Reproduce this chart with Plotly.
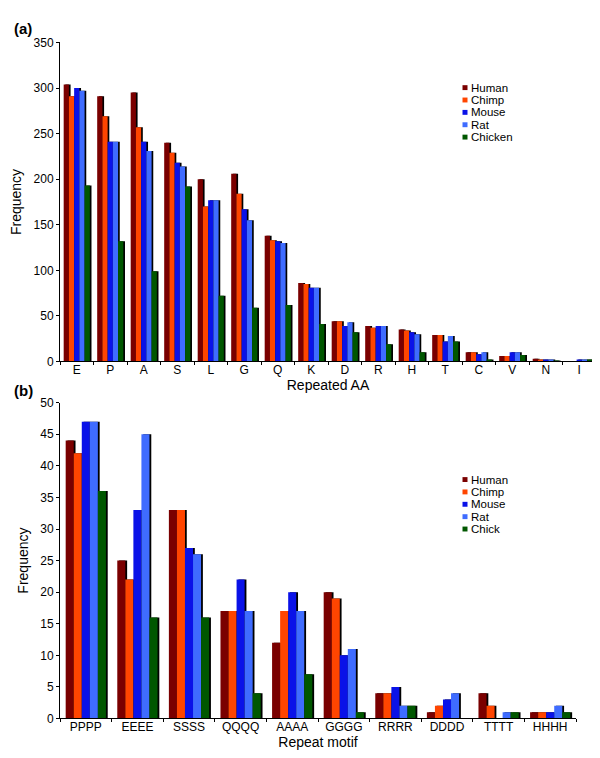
import plotly.graph_objects as go

# ---------- data (a) ----------
aa_cats = ["E", "P", "A", "S", "L", "G", "Q", "K", "D", "R", "H", "T", "C", "V", "N", "I"]
a_human = [304, 291, 295, 240, 200, 206, 138, 86, 44, 39, 35, 29, 10, 6, 3, 0]
a_chimp = [291, 269, 257, 229, 170, 184, 133, 85, 44, 37, 34, 29, 10, 6, 2, 0]
a_mouse = [300, 241, 241, 218, 177, 167, 132, 81, 39, 39, 32, 22, 8, 10, 2, 2]
a_rat = [297, 241, 231, 214, 177, 155, 130, 81, 43, 39, 30, 28, 10, 10, 2, 2]
a_chicken = [193, 132, 99, 192, 72, 59, 62, 41, 32, 19, 10, 22, 2, 7, 1, 2]
a_names = ["Human", "Chimp", "Mouse", "Rat", "Chicken"]

# ---------- data (b) ----------
motif_cats = ["PPPP", "EEEE", "SSSS", "QQQQ", "AAAA", "GGGG", "RRRR", "DDDD", "TTTT", "HHHH"]
b_human = [44, 25, 33, 17, 12, 20, 4, 1, 4, 1]
b_chimp = [42, 22, 33, 17, 17, 19, 4, 2, 2, 1]
b_mouse = [47, 33, 27, 22, 20, 10, 5, 3, 0, 1]
b_rat = [47, 45, 26, 17, 17, 11, 2, 4, 1, 2]
b_chick = [36, 16, 16, 4, 7, 1, 2, 0, 1, 1]
b_names = ["Human", "Chimp", "Mouse", "Rat", "Chick"]

colors = ["#7a0000", "#ff4500", "#0a12e8", "#3f6cff", "#005700"]

FONT = "Liberation Sans, Arial, sans-serif"
W, H = 600, 758

fig = go.Figure()


def add_group(cats, series, names, xa, ya, shadow_dx):
    w = 0.156
    start = -0.39
    for i, (vals, name, col) in enumerate(zip(series, names, colors)):
        off = start + i * w
        fig.add_trace(go.Bar(x=cats, y=vals, offset=off + shadow_dx, width=w,
                             marker=dict(color="black", line=dict(width=0)),
                             showlegend=False, hoverinfo="skip",
                             xaxis=xa, yaxis=ya))
        fig.add_trace(go.Bar(x=cats, y=vals, offset=off, width=w, name=name,
                             marker=dict(color=col, line=dict(width=0)),
                             showlegend=False, xaxis=xa, yaxis=ya))


add_group(aa_cats, [a_human, a_chimp, a_mouse, a_rat, a_chicken], a_names,
          "x", "y", 0.05)
add_group(motif_cats, [b_human, b_chimp, b_mouse, b_rat, b_chick], b_names,
          "x2", "y2", 0.035)

annotations = [
    dict(text="<b>(a)</b>", x=4 / W, y=1 - 14 / H, xref="paper", yref="paper",
         xanchor="left", yanchor="middle", showarrow=False, font=dict(size=15)),
    dict(text="<b>(b)</b>", x=4 / W, y=1 - 383 / H, xref="paper", yref="paper",
         xanchor="left", yanchor="middle", showarrow=False, font=dict(size=15)),
]
shapes = []


def add_legend(names, top_px, sq_x=457, text_x=462, step=12.6):
    for i, (name, col) in enumerate(zip(names, colors)):
        yc = top_px + i * step
        shapes.append(dict(type="rect", xref="paper", yref="paper",
                           x0=(sq_x - 2.5) / W, x1=(sq_x + 2.5) / W,
                           y0=1 - (yc + 2.5) / H, y1=1 - (yc - 2.5) / H,
                           fillcolor=col, line=dict(width=0)))
        annotations.append(dict(text=name, x=text_x / W, y=1 - yc / H,
                                xref="paper", yref="paper", xanchor="left",
                                yanchor="middle", showarrow=False, borderpad=0,
                                font=dict(size=11.5, color="black")))


add_legend(a_names, 74)
add_legend(b_names, 473.3)

axis_common = dict(showline=True, linecolor="black", linewidth=1, ticks="outside",
                   ticklen=3, tickcolor="black", showgrid=False, zeroline=False,
                   tickfont=dict(size=12, color="black", family=FONT))

fig.update_layout(
    width=W, height=H, barmode="overlay",
    margin=dict(l=0, r=0, t=0, b=0),
    paper_bgcolor="white", plot_bgcolor="white",
    font=dict(family=FONT, color="black"),
    showlegend=False,
    xaxis=dict(domain=[52 / W, 588 / W], anchor="y", type="category",
               tickson="boundaries", range=[-0.5, len(aa_cats) - 0.5],
               ticklabelstandoff=-3,
               title=dict(text="Repeated AA", font=dict(size=14), standoff=2),
               **axis_common),
    yaxis=dict(domain=[1 - 353 / H, 1 - 28 / H], anchor="x", range=[0, 350],
               dtick=50, title=dict(text="Frequency", font=dict(size=14), standoff=8),
               **axis_common),
    xaxis2=dict(domain=[52 / W, 568 / W], anchor="y2", type="category",
                tickson="boundaries", range=[-0.5, len(motif_cats) - 0.5],
                ticklabelstandoff=-3,
                title=dict(text="Repeat motif", font=dict(size=14), standoff=2),
                **axis_common),
    yaxis2=dict(domain=[1 - 716.7 / H, 1 - 395 / H], anchor="x2", range=[0, 50],
                dtick=5, title=dict(text="Frequency", font=dict(size=14), standoff=8),
                **axis_common),
    annotations=annotations,
    shapes=shapes,
)

fig.write_html("out.html")
